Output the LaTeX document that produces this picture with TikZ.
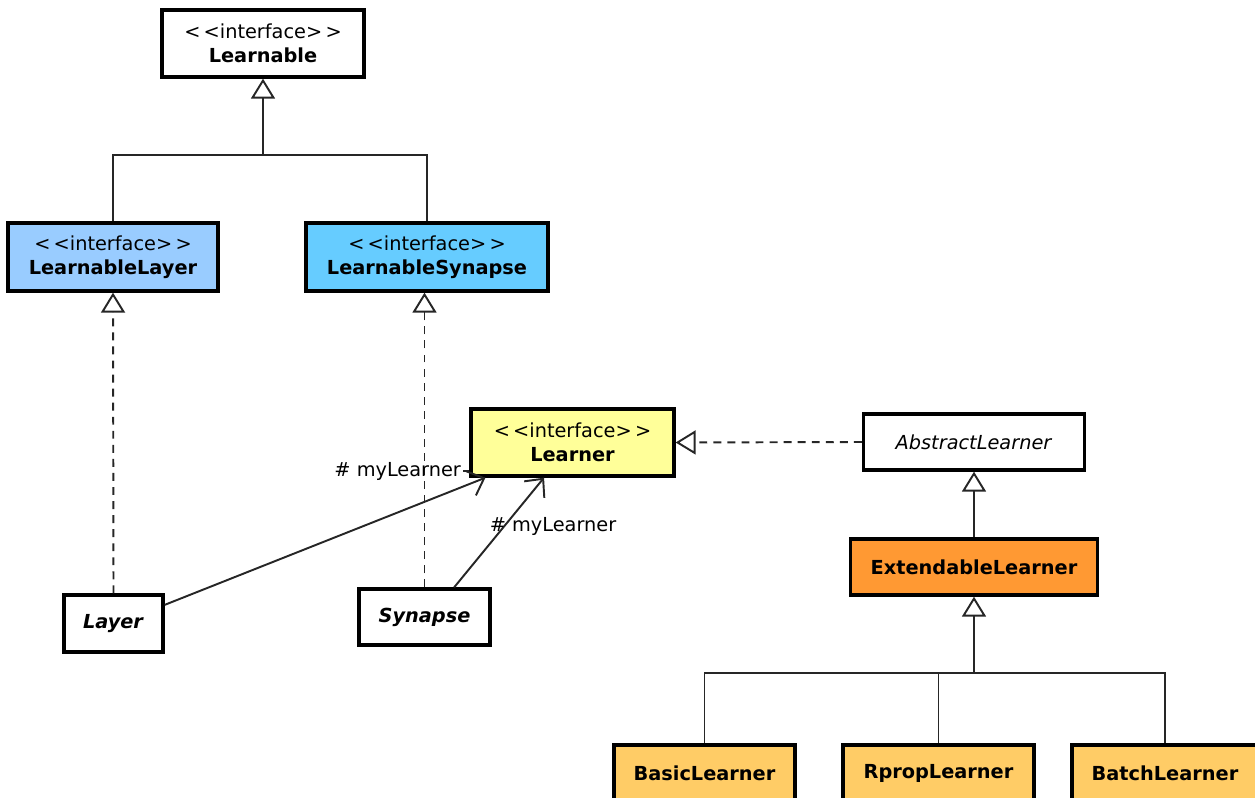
\documentclass[tikz,border=0pt]{standalone}
\usepackage{fontspec}
\setmainfont{DejaVu Sans}
\usetikzlibrary{arrows.meta,positioning,calc}
\definecolor{ulayer}{HTML}{99CCFF}
\definecolor{usynapse}{HTML}{66CCFF}
\definecolor{ulearner}{HTML}{FFFF99}
\definecolor{uext}{HTML}{FF9933}
\definecolor{uimpl}{HTML}{FFCC66}
\tikzset{
  ubox/.style={draw=black, fill=white, line width=1.9pt, align=center, inner sep=2pt,
               font=\fontsize{11}{13.5}\selectfont},
  uline/.style={black!85, line width=1.1pt},
  uinherit/.style={uline, -{Triangle[open, length=4mm, width=4.8mm]}},
  urealize/.style={uinherit, dash pattern=on 4.5pt off 3.5pt},
  uassoc/.style={uline, -{Straight Barb[length=2.8mm, width=5.2mm]}},
  ulbl/.style={font=\fontsize{11}{13.5}\selectfont, inner sep=1pt},
}
\newcommand{\ster}{<\,<interface>\,>}

\begin{document}
\begin{tikzpicture}[x=0.02cm,y=-0.02cm]
  \useasboundingbox (0,0) rectangle (1255,798);

  % interfaces
  \node[ubox, minimum width=4.04cm, minimum height=1.34cm] (learnable) at (263,43.5)
       {\ster\\\textbf{Learnable}};
  \node[ubox, fill=ulayer, minimum width=4.2cm, minimum height=1.36cm] (llayer) at (113,257)
       {\ster\\\textbf{LearnableLayer}};
  \node[ubox, fill=usynapse, minimum width=4.84cm, minimum height=1.36cm] (lsynapse) at (427,257)
       {\ster\\\textbf{LearnableSynapse}};
  \node[ubox, fill=ulearner, minimum width=4.06cm, minimum height=1.34cm] (learner) at (572.5,442.5)
       {\ster\\\textbf{Learner}};

  % classes
  \node[ubox, minimum width=1.98cm, minimum height=1.14cm] (layer) at (113.5,623.5)
       {\textbf{\textit{Layer}}};
  \node[ubox, minimum width=2.62cm, minimum height=1.12cm] (synapse) at (424.5,617)
       {\textbf{\textit{Synapse}}};
  \node[ubox, minimum width=4.42cm, minimum height=1.12cm] (abstract) at (974,442)
       {\textit{AbstractLearner}};
  \node[ubox, fill=uext, minimum width=4.94cm, minimum height=1.12cm] (extendable) at (974,567)
       {\textbf{ExtendableLearner}};
  \node[ubox, fill=uimpl, minimum width=3.62cm, minimum height=1.12cm] (basic) at (704.5,773)
       {\textbf{BasicLearner}};
  \node[ubox, fill=uimpl, minimum width=3.82cm, minimum height=1.12cm] (rprop) at (938.5,773)
       {\textbf{RpropLearner}};
  \node[ubox, fill=uimpl, minimum width=3.72cm, minimum height=1.12cm] (batch) at (1165,773)
       {\textbf{BatchLearner}};

  % generalisation
  \coordinate (topjoin) at (263,155);
  \draw[uinherit] (topjoin) -- (learnable.south);
  \draw[uline] (llayer.north) |- (topjoin) -| (lsynapse.north);
  \draw[uinherit] (extendable.north) -- (abstract.south);
  \coordinate (botjoin) at (974,673);
  \draw[uinherit] (botjoin) -- (extendable.south);
  \draw[uline] (basic.north) |- (botjoin) -| (batch.north);
  \draw[uline] (rprop.north) -- (rprop.north |- botjoin);

  % realisation
  \draw[urealize] (layer.north) -- (llayer.south);
  \draw[urealize] (synapse.north) -- (synapse.north |- lsynapse.south);
  \draw[urealize] (abstract.west) -- (learner.east);

  % associations
  \draw[uassoc] (layer.20) -- (learner.-158);
  \draw[uassoc] (synapse.45) -- (learner.-129);
  \node[ulbl, anchor=east] (lbllayer) at (463,471) {\# myLearner};
  \draw[uline] (lbllayer.east) -- (lbllayer.east -| learner.west);
  \node[ulbl] (lblsynapse) at (553,526) {\# myLearner};

\end{tikzpicture}
\end{document}
